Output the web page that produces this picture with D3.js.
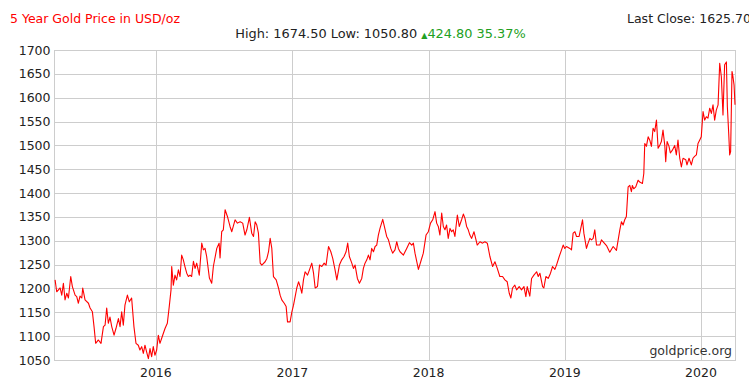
<!DOCTYPE html>
<html>
<head>
<meta charset="utf-8">
<script src="https://cdn.jsdelivr.net/npm/d3@7"></script>
<style>
  body { margin: 0; background: #fff; }
  svg { display: block; font-family: "DejaVu Sans", Verdana, sans-serif; }
</style>
</head>
<body>
<div id="viz"></div>
<script>
// header numbers
const high = 1674.5;
const low = 1050.8;
const change = 424.8;
const changePct = 35.37;
const lastClose = 1625.7;

// axes
const startDate = '2015-04-03';
const endDate = '2020-04-03';
const yearTicks = [2016, 2017, 2018, 2019, 2020];
const priceTicks = [1050, 1100, 1150, 1200, 1250, 1300, 1350, 1400, 1450, 1500, 1550, 1600, 1650, 1700];

// dates as decimal years
const dates = [
  2015.260, 2015.272, 2015.297, 2015.309, 2015.321, 2015.333, 2015.346, 2015.358, 2015.375, 2015.387,
  2015.407, 2015.419, 2015.431, 2015.443, 2015.456, 2015.463, 2015.480, 2015.505, 2015.517, 2015.534,
  2015.546, 2015.558, 2015.578, 2015.597, 2015.615, 2015.627, 2015.639, 2015.651, 2015.663, 2015.676,
  2015.693, 2015.707, 2015.725, 2015.737, 2015.749, 2015.761, 2015.773, 2015.791, 2015.805, 2015.822,
  2015.839, 2015.854, 2015.871, 2015.883, 2015.896, 2015.908, 2015.920, 2015.932, 2015.945, 2015.957,
  2015.969, 2015.981, 2015.993,
  2016.006, 2016.018, 2016.030, 2016.042, 2016.055, 2016.067, 2016.084, 2016.098, 2016.111, 2016.116,
  2016.128, 2016.140, 2016.152, 2016.165, 2016.177, 2016.189, 2016.201, 2016.213, 2016.226, 2016.238,
  2016.250, 2016.262, 2016.275, 2016.287, 2016.299, 2016.318, 2016.336, 2016.348, 2016.360, 2016.372,
  2016.392, 2016.409, 2016.421, 2016.446, 2016.463, 2016.470, 2016.482, 2016.494, 2016.507, 2016.524,
  2016.543, 2016.556, 2016.580, 2016.597, 2016.617, 2016.636, 2016.653, 2016.666, 2016.685, 2016.702,
  2016.715, 2016.727, 2016.739, 2016.751, 2016.764, 2016.776, 2016.800, 2016.813, 2016.825, 2016.837,
  2016.849, 2016.861, 2016.881, 2016.898, 2016.910, 2016.922, 2016.940, 2016.954, 2016.964, 2016.983,
  2016.996,
  2017.008, 2017.020, 2017.032, 2017.045, 2017.057, 2017.069, 2017.081, 2017.093, 2017.111, 2017.125,
  2017.142, 2017.155, 2017.167, 2017.184, 2017.199, 2017.216, 2017.233, 2017.247, 2017.265, 2017.282,
  2017.296, 2017.313, 2017.326, 2017.345, 2017.362, 2017.379, 2017.394, 2017.406, 2017.418, 2017.436,
  2017.448, 2017.460, 2017.477, 2017.492, 2017.509, 2017.521, 2017.533, 2017.546, 2017.558, 2017.570,
  2017.582, 2017.595, 2017.607, 2017.619, 2017.631, 2017.643, 2017.663, 2017.675, 2017.692, 2017.705,
  2017.722, 2017.736, 2017.753, 2017.766, 2017.778, 2017.790, 2017.815, 2017.839, 2017.859, 2017.876,
  2017.888, 2017.900, 2017.925, 2017.942, 2017.961, 2017.981, 2017.998,
  2018.014, 2018.030, 2018.047, 2018.059, 2018.071, 2018.083, 2018.096, 2018.108, 2018.120, 2018.132,
  2018.144, 2018.157, 2018.169, 2018.181, 2018.193, 2018.211, 2018.225, 2018.242, 2018.255, 2018.267,
  2018.279, 2018.291, 2018.303, 2018.316, 2018.333, 2018.348, 2018.357, 2018.377, 2018.396, 2018.413,
  2018.431, 2018.450, 2018.470, 2018.487, 2018.504, 2018.523, 2018.543, 2018.560, 2018.577, 2018.592,
  2018.604, 2018.616, 2018.633, 2018.646, 2018.665, 2018.682, 2018.700, 2018.714, 2018.724, 2018.743,
  2018.756, 2018.773, 2018.793, 2018.805, 2018.817, 2018.837, 2018.846, 2018.861, 2018.878, 2018.895,
  2018.910, 2018.927, 2018.939, 2018.959, 2018.976, 2018.988,
  2019.000, 2019.012, 2019.037, 2019.049, 2019.061, 2019.074, 2019.086, 2019.105, 2019.115, 2019.130,
  2019.140, 2019.159, 2019.171, 2019.184, 2019.196, 2019.208, 2019.220, 2019.233, 2019.257, 2019.269,
  2019.306, 2019.330, 2019.355, 2019.379, 2019.404, 2019.416, 2019.428, 2019.440, 2019.452, 2019.465,
  2019.477, 2019.489, 2019.496, 2019.506, 2019.521, 2019.538, 2019.550, 2019.570, 2019.580, 2019.587,
  2019.599, 2019.612, 2019.624, 2019.636, 2019.648, 2019.660, 2019.673, 2019.685, 2019.697, 2019.709,
  2019.721, 2019.734, 2019.741, 2019.751, 2019.765, 2019.775, 2019.790, 2019.807, 2019.819, 2019.831,
  2019.844, 2019.856, 2019.868, 2019.888, 2019.897, 2019.912, 2019.929, 2019.941, 2019.953, 2019.966,
  2019.978, 2019.990,
  2020.002, 2020.015, 2020.027, 2020.039, 2020.051, 2020.064, 2020.076, 2020.088, 2020.100, 2020.112,
  2020.125, 2020.137, 2020.149, 2020.161, 2020.173, 2020.186, 2020.193, 2020.203, 2020.210, 2020.217,
  2020.227, 2020.234, 2020.242, 2020.249
];

// USD/oz
const prices = [
  1218, 1193, 1201, 1186, 1211, 1176, 1190, 1180, 1225, 1204,
  1186, 1183, 1169, 1184, 1180, 1201, 1176, 1169, 1159, 1151,
  1120, 1085, 1092, 1085, 1120, 1123, 1159, 1127, 1140, 1120,
  1102, 1116, 1137, 1120, 1151, 1123, 1165, 1186, 1172, 1180,
  1120, 1085, 1081, 1071, 1078, 1064, 1081, 1067, 1053, 1074,
  1057, 1078, 1060,
  1071, 1102, 1085, 1095, 1106, 1116, 1127, 1162, 1197, 1246,
  1207, 1228, 1218, 1239, 1225, 1270, 1260, 1246, 1232, 1225,
  1228, 1225, 1257, 1242, 1253, 1228, 1295, 1281, 1284, 1267,
  1222, 1211, 1246, 1284, 1295, 1264, 1319, 1323, 1365, 1351,
  1330, 1319, 1344, 1337, 1340, 1337, 1312, 1323, 1349, 1316,
  1309, 1340, 1333, 1316, 1253, 1249, 1256, 1263, 1277, 1305,
  1284, 1225, 1218, 1201, 1186, 1176, 1169, 1162, 1130, 1130,
  1151,
  1165, 1183, 1201, 1214, 1204, 1190, 1218, 1235, 1228, 1239,
  1253, 1232, 1201, 1204, 1249, 1246, 1253, 1249, 1288, 1277,
  1263, 1239, 1218, 1249, 1260, 1267, 1277, 1295, 1267, 1253,
  1242, 1249, 1221, 1211, 1221, 1242, 1253, 1260, 1270, 1260,
  1284, 1277, 1288, 1291, 1312, 1326, 1345, 1330, 1309, 1302,
  1284, 1274, 1281, 1298, 1284, 1277, 1270, 1284, 1296, 1291,
  1295, 1274, 1240, 1256, 1274, 1312, 1319,
  1337, 1344, 1361, 1337, 1330, 1312, 1358, 1330, 1323, 1333,
  1305, 1326, 1319, 1323, 1309, 1354, 1330, 1344, 1356, 1347,
  1330, 1323, 1312, 1305, 1319, 1302, 1291, 1298, 1295, 1298,
  1295, 1267, 1246, 1256, 1242, 1225, 1225, 1218, 1214, 1190,
  1180, 1201, 1207, 1197, 1204, 1197, 1204, 1183, 1204, 1184,
  1221, 1228, 1235, 1225, 1232, 1204, 1201, 1225, 1221, 1232,
  1246, 1240, 1249, 1267, 1281, 1291,
  1284, 1288, 1284, 1281, 1316, 1319, 1309, 1309, 1323, 1344,
  1316, 1284, 1295, 1305, 1302, 1305, 1323, 1291, 1291, 1302,
  1290, 1276, 1288, 1280, 1323, 1340, 1333, 1344, 1351, 1413,
  1416, 1403, 1416, 1409, 1413, 1427, 1423, 1420, 1441, 1504,
  1498, 1518, 1511, 1498, 1536, 1529, 1553, 1494, 1500, 1508,
  1532, 1500, 1466, 1508, 1498, 1484, 1490, 1500, 1480, 1511,
  1473, 1455, 1473, 1470, 1459, 1473, 1459, 1473, 1477, 1480,
  1504, 1511,
  1518, 1571, 1553, 1560, 1557, 1578, 1567, 1585, 1553, 1574,
  1585, 1672, 1644, 1564, 1669, 1675, 1581, 1525, 1480, 1487,
  1655, 1644, 1627, 1585
];

function toDate(t) {
  const yr = Math.floor(t);
  const a = Date.UTC(yr, 0, 1);
  const b = Date.UTC(yr + 1, 0, 1);
  return new Date(a + (t - yr) * (b - a));
}

let data = dates.map((t, i) => ({ date: toDate(t), price: prices[i] }));

const width = 749;
const height = 390;
const plotLeft = 54, plotRight = 735.7, plotTop = 50, plotBottom = 360;

let x = d3.scaleUtc().domain([new Date(startDate), new Date(endDate)]).range([plotLeft, plotRight]);
let y = d3.scaleLinear().domain([1050, 1700]).range([plotBottom, plotTop]);

let svg = d3.select('#viz').append('svg').attr('width', width).attr('height', height);

const gridColor = '#cdcdcd';
const textColor = '#222';
const fs = 12.5;

// horizontal grid
svg.append('g')
  .selectAll('line')
  .data(priceTicks)
  .enter()
  .append('line')
  .attr('x1', plotLeft)
  .attr('x2', plotRight)
  .attr('y1', (d) => Math.round(y(d)) + 0.5)
  .attr('y2', (d) => Math.round(y(d)) + 0.5)
  .attr('stroke', gridColor);

// vertical grid (years)
svg.append('g')
  .selectAll('line')
  .data(yearTicks)
  .enter()
  .append('line')
  .attr('x1', (d) => Math.round(x(new Date(Date.UTC(d, 0, 1)))) + 0.5)
  .attr('x2', (d) => Math.round(x(new Date(Date.UTC(d, 0, 1)))) + 0.5)
  .attr('y1', plotTop)
  .attr('y2', plotBottom)
  .attr('stroke', gridColor);

// frame
svg.append('rect')
  .attr('x', plotLeft + 0.5)
  .attr('y', plotTop + 0.5)
  .attr('width', Math.round(plotRight) - plotLeft - 1)
  .attr('height', plotBottom - plotTop)
  .attr('fill', 'none')
  .attr('stroke', gridColor);

// y labels
svg.append('g')
  .selectAll('text')
  .data(priceTicks)
  .enter()
  .append('text')
  .attr('x', 50.5)
  .attr('y', (d) => y(d))
  .attr('dy', '0.36em')
  .attr('text-anchor', 'end')
  .attr('font-size', fs)
  .attr('fill', textColor)
  .text((d) => d);

// x labels
svg.append('g')
  .selectAll('text')
  .data(yearTicks)
  .enter()
  .append('text')
  .attr('x', (d) => x(new Date(Date.UTC(d, 0, 1))))
  .attr('y', 377)
  .attr('text-anchor', 'middle')
  .attr('font-size', fs)
  .attr('fill', textColor)
  .text((d) => d);

// price line
let line = d3.line()
  .x((d) => x(d.date))
  .y((d) => y(d.price));

svg.append('path')
  .datum(data)
  .attr('d', line)
  .attr('fill', 'none')
  .attr('stroke', '#ff0000')
  .attr('stroke-width', 1.1)
  .attr('stroke-linejoin', 'round');

// watermark
svg.append('text')
  .attr('x', 732)
  .attr('y', 355)
  .attr('text-anchor', 'end')
  .attr('font-size', fs)
  .attr('fill', '#333')
  .text('goldprice.org');

// title + header
svg.append('text')
  .attr('x', 10)
  .attr('y', 23)
  .attr('font-size', fs)
  .attr('fill', '#ff0000')
  .text('5 Year Gold Price in USD/oz');

svg.append('text')
  .attr('x', 627)
  .attr('y', 23)
  .attr('font-size', fs)
  .attr('fill', textColor)
  .text('Last Close: ' + lastClose.toFixed(2));

let hdr = svg.append('text')
  .attr('x', 380.5)
  .attr('y', 38)
  .attr('text-anchor', 'middle')
  .attr('font-size', 12.9)
  .attr('fill', textColor);
hdr.append('tspan').text('High: ' + high.toFixed(2) + ' Low: ' + low.toFixed(2) + ' ');
hdr.append('tspan').attr('font-size', 8).attr('fill', '#22a022').text('\u25B2');
hdr.append('tspan').attr('fill', '#22a022').text(change.toFixed(2) + ' ' + changePct.toFixed(2) + '%');
</script>
</body>
</html>
